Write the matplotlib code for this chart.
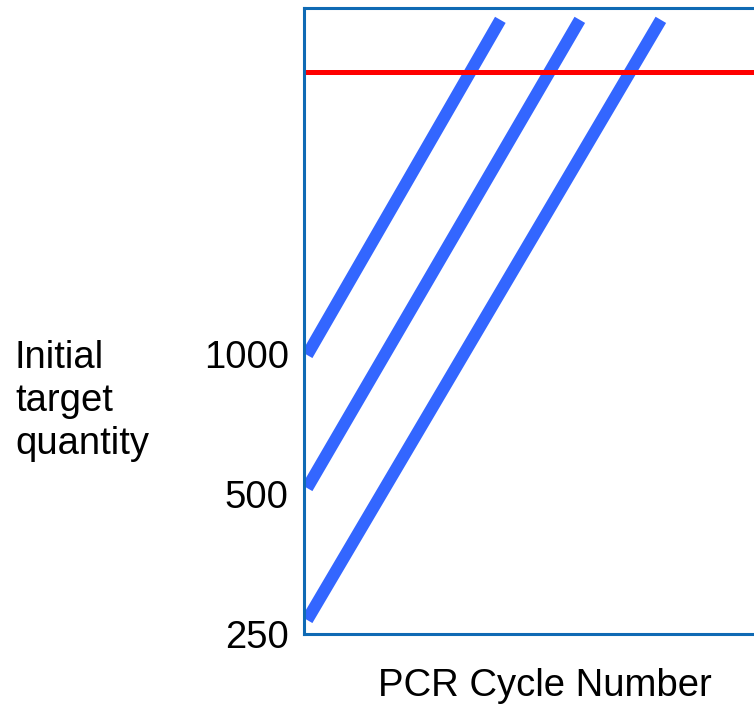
import matplotlib
matplotlib.use("Agg")
from matplotlib import pyplot as plt

# data: initial target quantity vs. PCR cycle (log2 y)
quantities = [1000, 500, 250]
start_cycle = [0.2, 0.2, 0.2]
start_qty = [995, 515, 268]
end_cycle = [12.6, 17.7, 22.9]
end_qty = [5230, 5230, 5230]
threshold = 4040
tick_labels = ["1000", "500", "250"]

plt.rcParams['font.family'] = ['Liberation Sans', 'DejaVu Sans']

fig = plt.figure(figsize=(7.54, 7.06), dpi=100)
ax = fig.add_axes([304 / 754, 72 / 706, 0.62, 626 / 706])

for x0, y0, x1, y1 in zip(start_cycle, start_qty, end_cycle, end_qty):
    ax.plot([x0, x1], [y0, y1], color='#3366ff', lw=8.8, solid_capstyle='butt')

ax.axhline(threshold, color='#ff0000', lw=3.6)

ax.set_yscale('log', base=2)
ax.set_ylim(250, 250 * 2 ** (626 / 140))
ax.set_xlim(0, 30)

ax.set_yticks(quantities)
ax.set_yticklabels(tick_labels)
ax.minorticks_off()
ax.set_xticks([])
ax.tick_params(axis='y', length=0, pad=11, labelsize=27.5)

for side in ['left', 'top', 'bottom']:
    ax.spines[side].set_color('#0f6ab4')
    ax.spines[side].set_linewidth(2.2)
ax.spines['right'].set_visible(False)

fig.text(15 / 754, 1 - 401 / 706, "Initial\ntarget\nquantity", fontsize=27.5,
         ha='left', va='center', linespacing=1.25)
fig.text(545 / 754, 1 - 686 / 706, "PCR Cycle Number", fontsize=27.5,
         ha='center', va='center')

fig.savefig("out.png", dpi=100)
